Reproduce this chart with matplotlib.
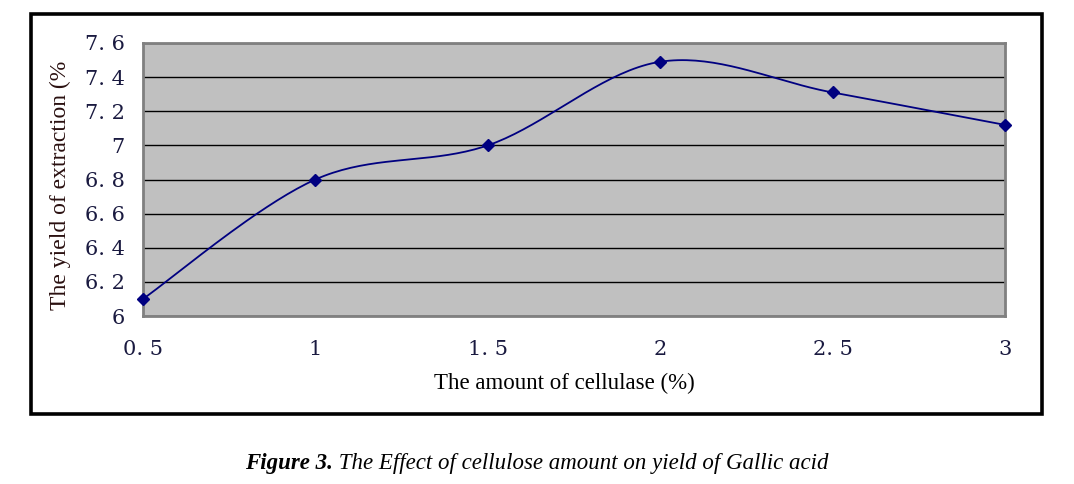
import numpy as np
import matplotlib
matplotlib.use("Agg")
import matplotlib.pyplot as plt
from matplotlib.patches import Rectangle

# data
amounts = [0.5, 1.0, 1.5, 2.0, 2.5, 3.0]
x_labels = ["0. 5", "1", "1. 5", "2", "2. 5", "3"]
yields = [6.10, 6.80, 7.00, 7.49, 7.31, 7.12]
y_ticks = [6.0, 6.2, 6.4, 6.6, 6.8, 7.0, 7.2, 7.4, 7.6]
y_labels = ["6", "6. 2", "6. 4", "6. 6", "6. 8", "7", "7. 2", "7. 4", "7. 6"]


def smooth(xs, ys, n=40):
    """Catmull-Rom style smoothing like spreadsheet 'smoothed line'."""
    xs = np.asarray(xs, float)
    ys = np.asarray(ys, float)
    px = np.concatenate([[xs[0]], xs, [xs[-1]]])
    py = np.concatenate([[ys[0]], ys, [ys[-1]]])
    ox, oy = [], []
    for i in range(1, len(px) - 2):
        p0 = np.array([px[i - 1], py[i - 1]])
        p1 = np.array([px[i], py[i]])
        p2 = np.array([px[i + 1], py[i + 1]])
        p3 = np.array([px[i + 2], py[i + 2]])
        c1 = p1 + (p2 - p0) / 6.0
        c2 = p2 - (p3 - p1) / 6.0
        t = np.linspace(0, 1, n)[:, None]
        b = ((1 - t) ** 3) * p1 + 3 * ((1 - t) ** 2) * t * c1 + 3 * (1 - t) * t ** 2 * c2 + t ** 3 * p2
        ox.extend(b[:, 0])
        oy.extend(b[:, 1])
    return np.array(ox), np.array(oy)


W, H = 1074, 484
fig = plt.figure(figsize=(W / 100, H / 100), dpi=100)

# outer frame
fig.patches.append(Rectangle((31 / W, 1 - 414 / H), (1042 - 31) / W, (414 - 14) / H,
                             transform=fig.transFigure, fill=False, edgecolor="black",
                             linewidth=2.6, zorder=0))

left, right, top, bottom = 143, 1005, 43, 316
ax = fig.add_axes([left / W, 1 - bottom / H, (right - left) / W, (bottom - top) / H])
ax.set_facecolor("#C0C0C0")
for s in ax.spines.values():
    s.set_color("#808080")
    s.set_linewidth(2.0)

ax.set_xlim(0.5, 3.0)
ax.set_ylim(6.0, 7.6)
ax.set_yticks(y_ticks)
ax.set_yticklabels(y_labels)
ax.set_xticks(amounts)
ax.set_xticklabels(x_labels)
ax.tick_params(axis="both", length=0, labelsize=15, labelcolor="#1a1a40")
ax.tick_params(axis="y", pad=13)
ax.tick_params(axis="x", pad=17)
for lab in ax.get_xticklabels() + ax.get_yticklabels():
    lab.set_fontfamily("DejaVu Serif")

ax.yaxis.grid(True, color="black", linewidth=1.0)
ax.set_axisbelow(True)

sx, sy = smooth(amounts, yields)
ax.plot(sx, sy, color="#000080", linewidth=1.3, zorder=3, clip_on=False)
ax.plot(amounts, yields, linestyle="none", marker="D", markersize=6,
        color="#000080", zorder=4, clip_on=False)

fig.text(564 / W, 1 - 383 / H, "The amount of cellulase (%)", ha="center", va="center",
         fontsize=16.5, family="Liberation Serif", color="black")
fig.text(60 / W, 1 - 185 / H, "The yield of extraction (%", ha="center", va="center",
         rotation=90, fontsize=17, family="Liberation Serif", color="#2a1010")

# caption: bold-italic prefix followed by italic text, centred as a whole
cap_y = 1 - 463 / H
t1 = fig.text(0, cap_y, "Figure 3.", ha="left", va="center", fontsize=16.5,
              family="Liberation Serif", style="italic", weight="bold")
t2 = fig.text(0, cap_y, " The Effect of cellulose amount on yield of Gallic acid",
              ha="left", va="center", fontsize=16.5, family="Liberation Serif", style="italic")
fig.canvas.draw()
r = fig.canvas.get_renderer()
w1 = t1.get_window_extent(r).width
w2 = t2.get_window_extent(r).width
x0 = 537 - (w1 + w2) / 2
t1.set_x(x0 / W)
t2.set_x((x0 + w1) / W)

fig.savefig("out.png", dpi=100)
